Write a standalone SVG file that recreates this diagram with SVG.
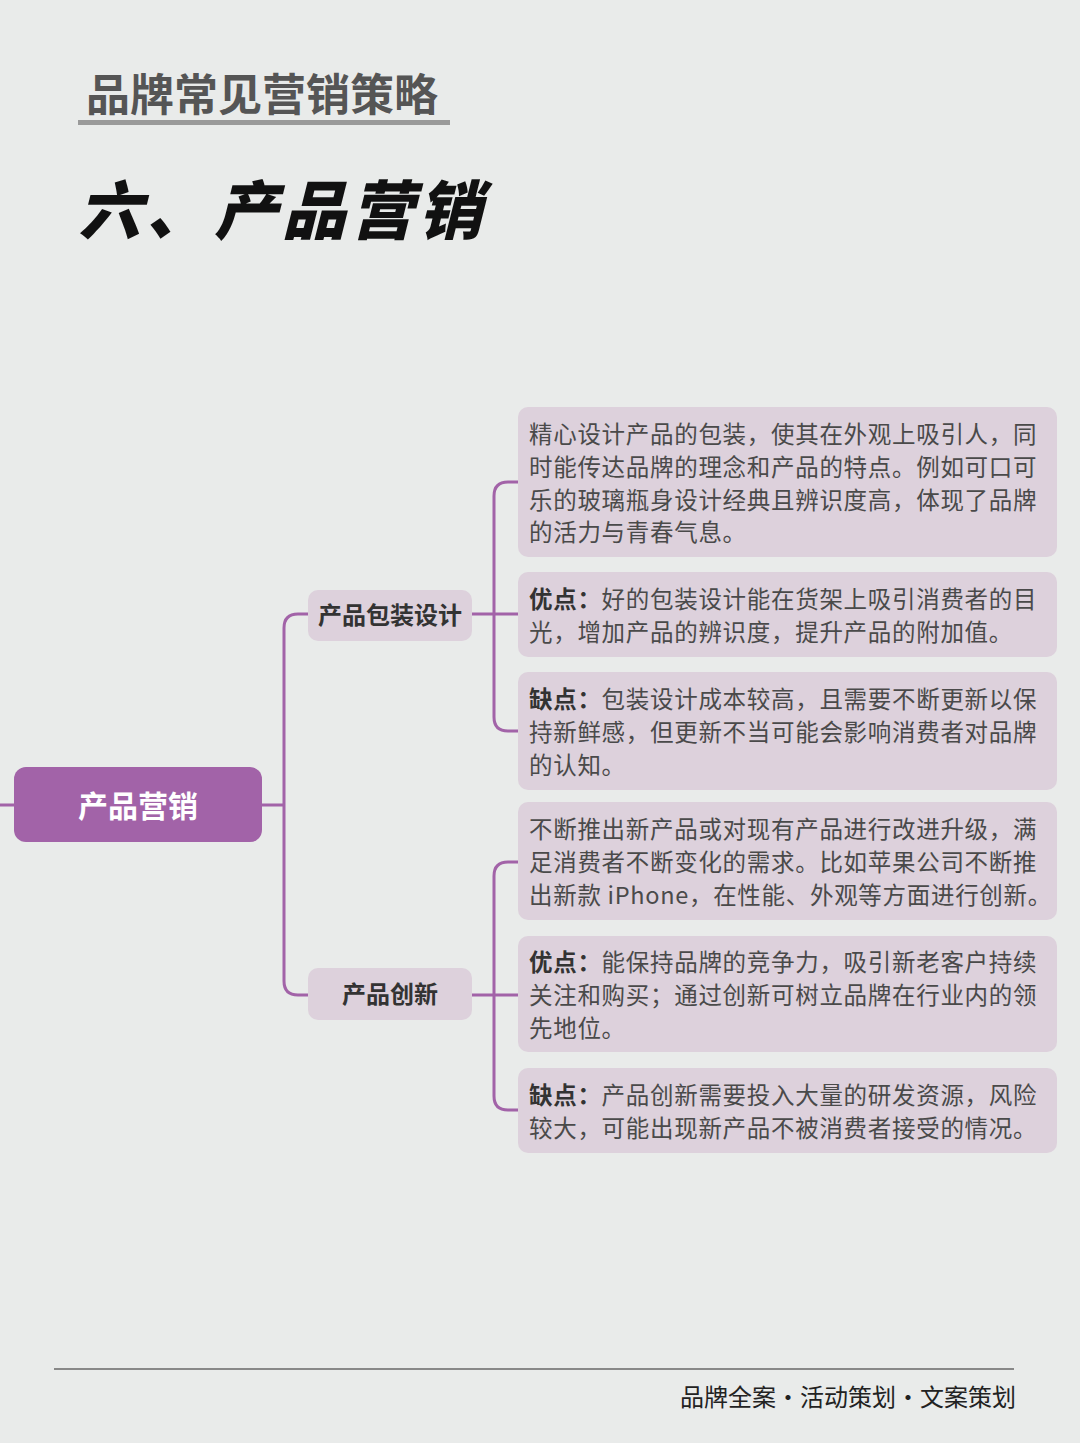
<svg xmlns="http://www.w3.org/2000/svg" width="1080" height="1443" viewBox="0 0 1080 1443">
<style>
text{font-family:"Noto Sans CJK SC","Noto Sans",sans-serif}
.c{stroke:#a263a8;stroke-width:3;fill:none}
.box{fill:#ddd1dc}
.t{font-size:23.5px;fill:#4a4a4a;letter-spacing:0.7px}
.b{font-weight:bold;fill:#333}
.m{font-size:24px;font-weight:bold;fill:#333;text-anchor:middle}
</style>
<rect width="1080" height="1443" fill="#e9ebea"/>
<text x="86" y="111" font-size="44" font-weight="bold" fill="#555">品牌常见营销策略</text>
<rect x="78" y="120" width="372" height="5" fill="#9a9a9a"/>
<text x="78" y="234" font-size="64" font-weight="900" font-style="italic" fill="#111" letter-spacing="4">六、产品营销</text>
<g id="connectors">
<path class="c" d="M0 805H14M262 805H284M308 614H298Q284 614 284 628V981Q284 995 298 995H308"/>
<path class="c" d="M472 614H518M518 482H508Q494 482 494 496V717Q494 731 508 731H518"/>
<path class="c" d="M472 995H518M518 862H508Q494 862 494 876V1096Q494 1110 508 1110H518"/>
</g>
<g id="root"><rect x="14" y="767" width="248" height="75" rx="12" fill="#a263a8"/><text x="138" y="817" font-size="30" font-weight="bold" fill="#fff" text-anchor="middle">产品营销</text></g>
<g id="n1"><rect x="308" y="590" width="164" height="51" rx="10" class="box"/><text x="390" y="624" class="m">产品包装设计</text></g>
<g id="n2"><rect x="308" y="968" width="164" height="52" rx="10" class="box"/><text x="390" y="1003" class="m">产品创新</text></g>
<g id="c1"><rect x="518" y="407" width="539" height="150" rx="10" class="box"/>
<text class="t" x="529"><tspan x="529" y="443">精心设计产品的包装，使其在外观上吸引人，同</tspan><tspan x="529" y="476">时能传达品牌的理念和产品的特点。例如可口可</tspan><tspan x="529" y="509">乐的玻璃瓶身设计经典且辨识度高，体现了品牌</tspan><tspan x="529" y="541">的活力与青春气息。</tspan></text></g>
<g id="c2"><rect x="518" y="572" width="539" height="85" rx="10" class="box"/>
<text class="t"><tspan x="529" y="608"><tspan class="b">优点：</tspan>好的包装设计能在货架上吸引消费者的目</tspan><tspan x="529" y="641">光，增加产品的辨识度，提升产品的附加值。</tspan></text></g>
<g id="c3"><rect x="518" y="672" width="539" height="118" rx="10" class="box"/>
<text class="t"><tspan x="529" y="708"><tspan class="b">缺点：</tspan>包装设计成本较高，且需要不断更新以保</tspan><tspan x="529" y="741">持新鲜感，但更新不当可能会影响消费者对品牌</tspan><tspan x="529" y="774">的认知。</tspan></text></g>
<g id="c4"><rect x="518" y="802" width="539" height="118" rx="10" class="box"/>
<text class="t"><tspan x="529" y="838">不断推出新产品或对现有产品进行改进升级，满</tspan><tspan x="529" y="871">足消费者不断变化的需求。比如苹果公司不断推</tspan><tspan x="529" y="904">出新款 iPhone，在性能、外观等方面进行创新。</tspan></text></g>
<g id="c5"><rect x="518" y="936" width="539" height="116" rx="10" class="box"/>
<text class="t"><tspan x="529" y="971"><tspan class="b">优点：</tspan>能保持品牌的竞争力，吸引新老客户持续</tspan><tspan x="529" y="1004">关注和购买；通过创新可树立品牌在行业内的领</tspan><tspan x="529" y="1037">先地位。</tspan></text></g>
<g id="c6"><rect x="518" y="1068" width="539" height="85" rx="10" class="box"/>
<text class="t"><tspan x="529" y="1104"><tspan class="b">缺点：</tspan>产品创新需要投入大量的研发资源，风险</tspan><tspan x="529" y="1137">较大，可能出现新产品不被消费者接受的情况。</tspan></text></g>
<rect x="54" y="1368" width="960" height="2" fill="#888"/>
<text x="1016" y="1406" font-size="24" fill="#222" text-anchor="end">品牌全案·活动策划·文案策划</text>
</svg>
